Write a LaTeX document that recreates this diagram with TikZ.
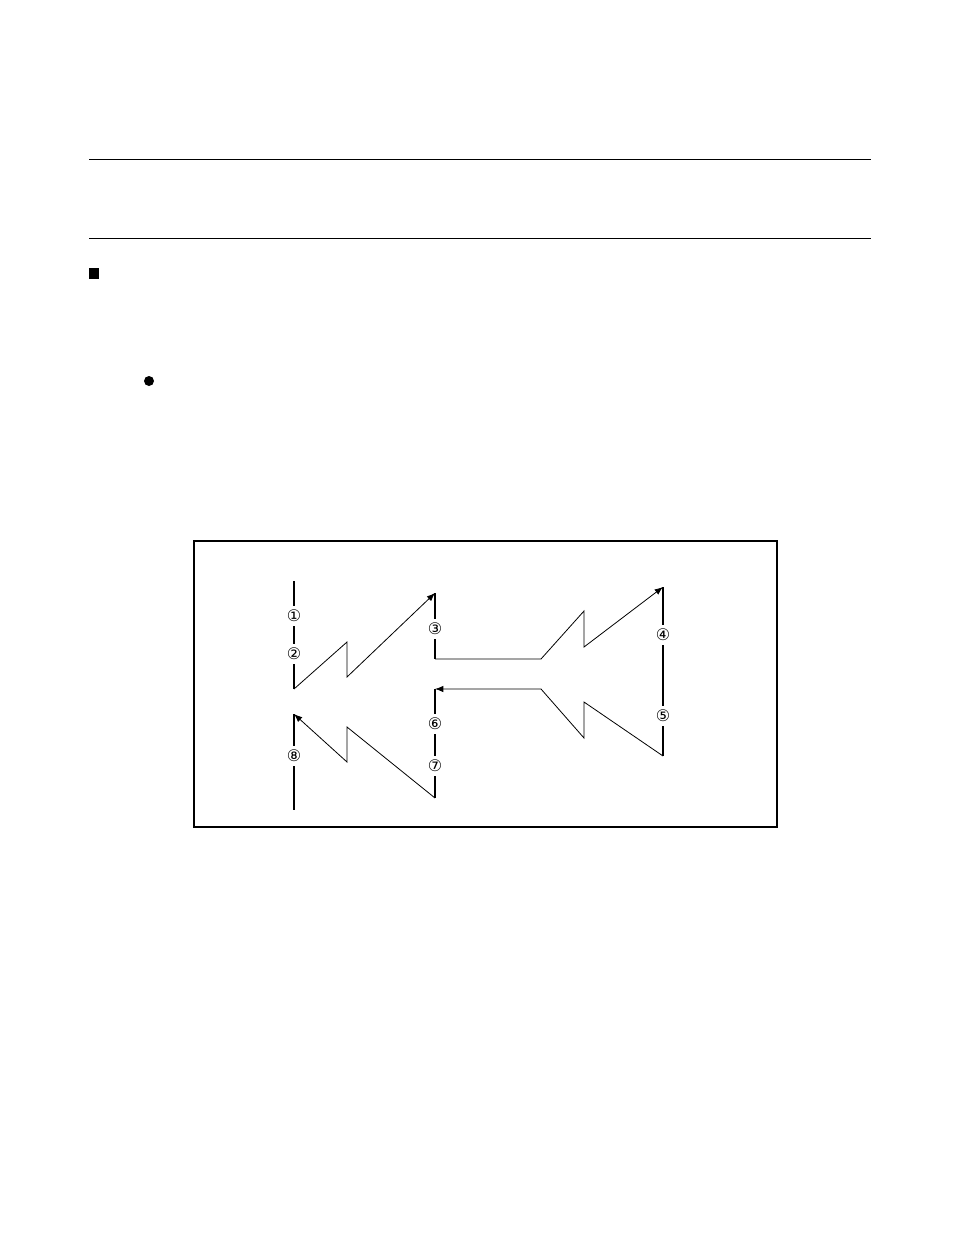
\documentclass[tikz,border=0pt]{standalone}
\usepackage{fontspec}
\setmainfont{DejaVu Sans}
\usetikzlibrary{arrows.meta}

\begin{document}
\begin{tikzpicture}[
  x=0.75pt, y=-0.75pt,
  >={Latex[length=2.2mm,width=1.7mm]},
  rail/.style  = {line width=1.1pt},
  zig/.style   = {line width=0.6pt},
  num/.style   = {inner sep=0pt, minimum size=15pt, font=\fontsize{12}{14}\selectfont},
  rule/.style  = {line width=0.75pt}
]

% ---- page ----
\useasboundingbox (0,0) rectangle (954,1235);

% ---- header rules and marks ----
\draw[rule] (89,159) -- (871,159);
\draw[rule] (89,238) -- (871,238);
\fill (89,268) rectangle (99,279);
\fill (149,381) circle (5);

% ---- frame ----
\draw[line width=1pt] (194,541) rectangle (777,827);

% ---- ends of the rails ----
\coordinate (Ltop) at (294,581);
\coordinate (Lmid) at (294,689);
\coordinate (Lup)  at (294,714);
\coordinate (Lbot) at (294,810);
\coordinate (Mtop) at (435,593);
\coordinate (Mmid) at (435,659);
\coordinate (Mup)  at (435,689);
\coordinate (Mbot) at (435,798);
\coordinate (Rtop) at (663,587);
\coordinate (Rbot) at (663,756);

% ---- labels ----
\node[num] (n1) at (294,616) {①};
\node[num] (n2) at (294,654) {②};
\node[num] (n3) at (435,629) {③};
\node[num] (n4) at (663,635) {④};
\node[num] (n5) at (663,716) {⑤};
\node[num] (n6) at (435,724) {⑥};
\node[num] (n7) at (435,766) {⑦};
\node[num] (n8) at (294,756) {⑧};

% ---- rails ----
\draw[rail] (Ltop) -- (n1) -- (n2) -- (Lmid);
\draw[rail] (Lup) -- (n8) -- (Lbot);
\draw[rail] (Mtop) -- (n3) -- (Mmid);
\draw[rail] (Mup) -- (n6) -- (n7) -- (Mbot);
\draw[rail] (Rtop) -- (n4) -- (n5) -- (Rbot);

% ---- signals ----
\draw[zig,->] (Lmid) -- (347,642) -- (347,677) -- (Mtop);
\draw[zig,->] (Mmid) -- (541,659) -- (584,611) -- (584,647) -- (Rtop);
\draw[zig,->] (Rbot) -- (584,702) -- (584,738) -- (541,689) -- (Mup);
\draw[zig,->] (Mbot) -- (347,727) -- (347,762) -- (Lup);

\end{tikzpicture}
\end{document}
